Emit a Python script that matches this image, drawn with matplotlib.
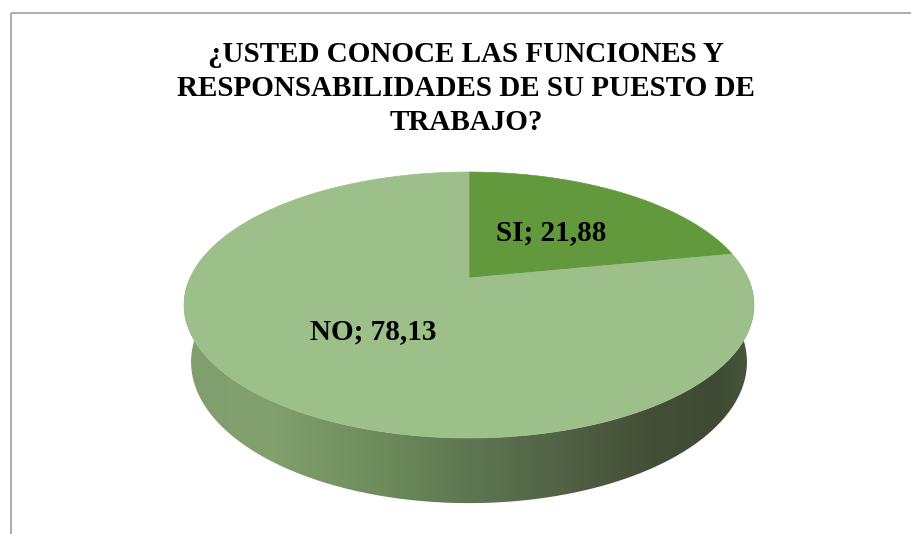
import numpy as np
import matplotlib
matplotlib.use("Agg")
import matplotlib.pyplot as plt
from matplotlib.patches import Polygon
from matplotlib.colors import LinearSegmentedColormap

# ---- data ----
title_lines = ["¿USTED CONOCE LAS FUNCIONES Y",
               "RESPONSABILIDADES DE SU PUESTO DE",
               "TRABAJO?"]
categories = ["SI", "NO"]
values = [21.88, 78.13]
slice_colors = ["#62993c", "#9dbf8a"]

# ---- figure in pixel coordinates ----
W, H = 911, 534
fig = plt.figure(figsize=(W / 100, H / 100), dpi=100)
ax = fig.add_axes([0, 0, 1, 1])
ax.set_xlim(0, W)
ax.set_ylim(H, 0)
ax.axis("off")

# chart border (top and left visible)
ax.plot([10.5, W], [13, 13], color="#a6a6a6", lw=1.3, solid_capstyle="butt")
ax.plot([10.5, 10.5], [13, H], color="#a6a6a6", lw=1.3, solid_capstyle="butt")

# ---- perspective projection of a 3D pie ----
cx, cy = 469.0, 278.0
f = 1222.0
d = 4.38
s = 0.457
c = np.sqrt(1 - s * s)
h = 0.231


def proj(x, y, z=0.0):
    D = d + y * c - z * s
    return cx + f * x / D, cy - f * (y * s + z * c) / D


def arc(t0, t1, z=0.0, n=200):
    t = np.radians(np.linspace(t0, t1, n))
    return proj(np.sin(t), np.cos(t), z)


# side (front half) with horizontal gradient
tx, ty = arc(90, 270, 0.0)
bx, by = arc(270, 90, -h)
side_xy = np.column_stack([np.concatenate([tx, bx]), np.concatenate([ty, by])])
side = Polygon(side_xy, closed=True, facecolor="none", edgecolor="none")
ax.add_patch(side)

stops = [(183, "#819f6e"), (270, "#82a16e"), (380, "#6e8c5b"), (470, "#5d7651"),
         (560, "#526246"), (650, "#434f36"), (720, "#3e4a33"), (757, "#4a5a3e")]
x0, x1 = stops[0][0], stops[-1][0]
cmap = LinearSegmentedColormap.from_list(
    "side", [((p - x0) / (x1 - x0), col) for p, col in stops])
grad = np.linspace(0, 1, 512)[None, :]
im = ax.imshow(grad, cmap=cmap, extent=[x0, x1, by.max() + 2, ty.min()],
               aspect="auto", interpolation="bilinear", zorder=1)
im.set_clip_path(side)
ax.set_xlim(0, W)
ax.set_ylim(H, 0)

# top faces
total = sum(values)
start = 0.0
for cat, val, col in zip(categories, values, slice_colors):
    sweep = 360.0 * val / total
    axx, ayy = arc(start, start + sweep, 0.0, 300)
    poly = np.column_stack([np.concatenate([[cx], axx]), np.concatenate([[cy], ayy])])
    ax.add_patch(Polygon(poly, closed=True, facecolor=col, edgecolor=col,
                         lw=0.5, zorder=2))
    mid = np.radians(start + sweep / 2)
    lx, ly = proj(0.5 * np.sin(mid), 0.5 * np.cos(mid), 0.0)
    label = f"{cat}; {val:.2f}".replace(".", ",")
    ax.text(lx, ly, label, ha="center", va="center", fontsize=21,
            fontweight="bold", family="Liberation Serif", color="black", zorder=3)
    start += sweep

# title
for i, line in enumerate(title_lines):
    ax.text(466, 54 + i * 34, line, ha="center", va="center", fontsize=21,
            fontweight="bold", family="Liberation Serif", color="black")

fig.savefig("out.png", dpi=100, facecolor="white")
